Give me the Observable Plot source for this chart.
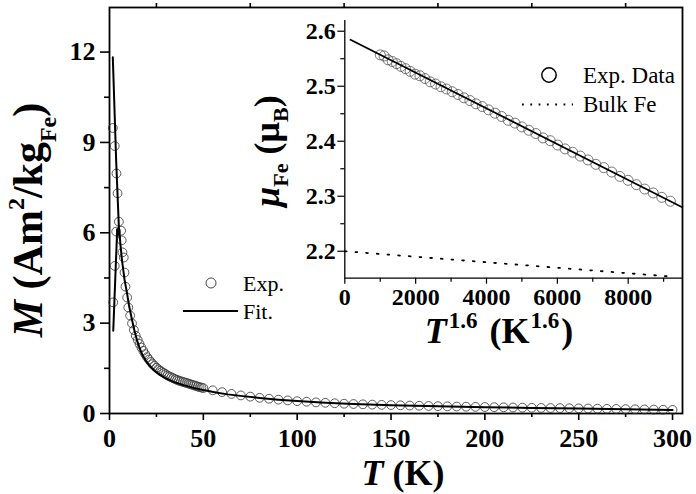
<!DOCTYPE html>
<html><head><meta charset="utf-8">
<script src="https://cdn.jsdelivr.net/npm/d3@7"></script>
<script src="https://cdn.jsdelivr.net/npm/@observablehq/plot@0.6"></script>
<style>
body{margin:0;background:#fff;}
#wrap{position:relative;width:696px;height:494px;overflow:hidden;background:#fff;}
#wrap svg{position:absolute;overflow:visible;}
#wrap svg text{font-family:'Liberation Serif','Times New Roman',serif;}
</style></head><body><div id="wrap"></div>
<script>
// ---------- Main plot data: M (Am2/kgFe) vs T (K) ----------
const expT = [1.76, 2.8, 3.7, 4.3, 5.0, 6.2, 6.5, 6.9, 7.6, 8.0, 8.5, 9.4,
  10, 11, 12, 13, 14, 15, 16, 17, 18, 19, 20, 21, 22, 23, 24, 25, 26, 27, 28, 29, 30,
  31, 32, 33, 34, 35, 36, 37, 38, 39, 40, 41, 42, 43, 44, 45, 46, 47, 48, 49, 50,
  55, 60, 65, 70, 75, 80, 85, 90, 95, 100, 105, 110, 115, 120, 125, 130, 135, 140, 145, 150,
  155, 160, 165, 170, 175, 180, 185, 190, 195, 200, 205, 210, 215, 220, 225, 230, 235, 240,
  245, 250, 255, 260, 265, 270, 275, 280, 285, 290, 295, 300];
const expM = [9.48, 8.88, 7.97, 7.31, 6.37, 6.07, 5.75, 5.35, 5.18, 4.68, 4.21, 3.85,
  3.52, 3.25, 2.99, 2.77, 2.58, 2.44, 2.31, 2.19, 2.08, 1.97, 1.87, 1.79, 1.71, 1.64, 1.58, 1.52, 1.47, 1.42, 1.38, 1.34, 1.30,
  1.26, 1.23, 1.20, 1.17, 1.14, 1.115, 1.09, 1.07, 1.05, 1.035, 1.015, 0.995, 0.975, 0.955, 0.935, 0.915, 0.895, 0.875, 0.86, 0.845,
  0.77, 0.71, 0.65, 0.60, 0.56, 0.52, 0.49, 0.46, 0.435, 0.41, 0.39, 0.37, 0.355, 0.34, 0.325, 0.315, 0.305, 0.295, 0.287, 0.28,
  0.272, 0.264, 0.257, 0.25, 0.243, 0.237, 0.231, 0.226, 0.22, 0.215, 0.21, 0.205, 0.2, 0.195, 0.19, 0.186, 0.182, 0.178,
  0.174, 0.17, 0.165, 0.16, 0.155, 0.15, 0.145, 0.14, 0.135, 0.13, 0.125, 0.12];
const riseT = [1.97, 2.8, 3.55];
const riseM = [3.69, 4.9, 6.04];
const fitT = [1.76, 3.55, 5.0, 6.0, 6.7, 8, 9.4, 10.5, 12.1, 13.4, 14.7, 16, 17.4, 19.5, 21.8, 24, 26.3, 30, 34.2, 39, 44.9, 50,
  57.4, 63, 69.8, 80, 90, 100, 115, 130, 150, 175, 200, 225, 250, 275, 300];
const fitM = [11.83, 8.39, 6.18, 5.5, 5.07, 4.45, 3.97, 3.55, 3.08, 2.72, 2.42, 2.18, 1.96, 1.74, 1.55, 1.42, 1.31, 1.17, 1.05, 0.95, 0.85, 0.78,
  0.69, 0.635, 0.585, 0.515, 0.46, 0.415, 0.36, 0.315, 0.275, 0.24, 0.21, 0.185, 0.165, 0.14, 0.115];
const fitRiseT = [2.0, 4.1, 5.5];
const fitRiseM = [2.75, 6.12, 5.85];
const xMajor = [0, 50, 100, 150, 200, 250, 300];
const xMinor = [25, 75, 125, 175, 225, 275];
const topTicks = [25, 75, 125, 175, 225, 275];
const yMajor = [0, 3, 6, 9, 12];
const yMinor = [1.5, 4.5, 7.5, 10.5];
const xDomain = [0, 305.3];
const yDomain = [0, 13.48];

// ---------- Inset data: mu_Fe (mu_B) vs T^1.6 ----------
const inX = [1000, 1109, 1222, 1339, 1460, 1585, 1714, 1846, 1982, 2122, 2265, 2411, 2562, 2715, 2872, 3032, 3195, 3362,
  3531, 3704, 3880, 4059, 4241, 4426, 4614, 4804, 4998, 5194, 5394, 5596, 5801, 6009, 6219, 6432, 6648, 6866, 7087,
  7311, 7537, 7765, 7997, 8231, 8467, 8706, 8948, 9190];
const inMu = [2.557, 2.555, 2.548, 2.545, 2.541, 2.536, 2.532, 2.527, 2.522, 2.519, 2.514, 2.508, 2.504, 2.499, 2.495, 2.490, 2.485, 2.479,
  2.474, 2.468, 2.463, 2.457, 2.451, 2.445, 2.438, 2.433, 2.426, 2.420, 2.414, 2.406, 2.401, 2.393, 2.386, 2.380, 2.373, 2.366, 2.358,
  2.352, 2.344, 2.336, 2.329, 2.321, 2.313, 2.306, 2.298, 2.291];
const inFitX = [161, 9525];
const inFitMu = [2.5844, 2.280];
const bulkX = [0, 9200];
const bulkMu = [2.200, 2.154];
const inXMajor = [0, 2000, 4000, 6000, 8000];
const inXMinor = [1000, 3000, 5000, 7000, 9000];
const inYMajor = [2.2, 2.3, 2.4, 2.5, 2.6];
const inYMinor = [2.25, 2.35, 2.45, 2.55];
const inXDomain = [0, 9533];
const inYDomain = [2.151, 2.6195];

// ---------- tables ----------
const expData = expT.map((T, i) => ({T, M: expM[i]})).concat(riseT.map((T, i) => ({T, M: riseM[i]})));
const fitData = fitT.map((T, i) => ({T, M: fitM[i], b: "a"})).concat(fitRiseT.map((T, i) => ({T, M: fitRiseM[i], b: "b"})));
const inData = inX.map((x, i) => ({x, mu: inMu[i]}));
const inFit = inFitX.map((x, i) => ({x, mu: inFitMu[i]}));
const bulk = bulkX.map((x, i) => ({x, mu: bulkMu[i]}));

const FONT = "'Liberation Serif', 'Times New Roman', serif";
const wrap = document.getElementById("wrap");
const tx = {fontFamily: FONT, fontWeight: "bold"};

const main = Plot.plot({
  width: 696, height: 494,
  marginLeft: 109, marginRight: 14, marginTop: 7, marginBottom: 81,
  style: {fontFamily: FONT, background: "transparent", overflow: "visible", color: "black"},
  x: {domain: xDomain},
  y: {domain: yDomain},
  marks: [
    Plot.axisX({...tx, ticks: xMajor, tickSize: 7, tickPadding: 8, fontSize: 26, tickFormat: d => String(d), label: null, strokeWidth: 1.6}),
    Plot.axisX({ticks: xMinor, tickSize: 4, tickFormat: () => "", label: null, strokeWidth: 1.6}),
    Plot.axisX({anchor: "top", ticks: topTicks, tickSize: 5, tickFormat: () => "", label: null, strokeWidth: 1.6}),
    Plot.axisY({...tx, ticks: yMajor, tickSize: 9, tickPadding: 5, fontSize: 26, tickFormat: d => String(d), label: null, strokeWidth: 1.6}),
    Plot.axisY({ticks: yMinor, tickSize: 5, tickFormat: () => "", label: null, strokeWidth: 1.6}),
    Plot.frame({stroke: "black", strokeWidth: 1.8}),
    Plot.dot(expData, {x: "T", y: "M", r: 4.4, stroke: "#333", strokeWidth: 0.8, fill: "none"}),
    Plot.line(fitData, {x: "T", y: "M", z: "b", stroke: "black", strokeWidth: 2})
  ]
});
main.style.left = "0px"; main.style.top = "0px";
wrap.appendChild(main);

const IL = 250, IT = 0;
const inset = Plot.plot({
  width: 446, height: 350,
  marginLeft: 94.3, marginRight: 14, marginTop: 20, marginBottom: 72.3,
  style: {fontFamily: FONT, background: "transparent", overflow: "visible", color: "black"},
  x: {domain: inXDomain},
  y: {domain: inYDomain},
  marks: [
    Plot.ruleX([inXDomain[0]], {stroke: "black", strokeWidth: 1.3}),
    Plot.ruleY([inYDomain[0]], {stroke: "black", strokeWidth: 1.3}),
    Plot.axisX({...tx, ticks: inXMajor, tickSize: 6, tickPadding: 4, fontSize: 24, tickFormat: d => String(d), label: null, strokeWidth: 1.2}),
    Plot.axisX({ticks: inXMinor, tickSize: 4, tickFormat: () => "", label: null, strokeWidth: 1.2}),
    Plot.axisY({...tx, ticks: inYMajor, tickSize: 7, tickPadding: 2, fontSize: 24, tickFormat: d => d.toFixed(1), label: null, strokeWidth: 1.2}),
    Plot.axisY({ticks: inYMinor, tickSize: 4, tickFormat: () => "", label: null, strokeWidth: 1.2}),
    Plot.dot(inData, {x: "x", y: "mu", r: 5, stroke: "#555", strokeWidth: 0.8, fill: "none"}),
    Plot.line(inFit, {x: "x", y: "mu", stroke: "black", strokeWidth: 1.8}),
    Plot.line(bulk, {x: "x", y: "mu", stroke: "black", strokeWidth: 1.8, strokeDasharray: "1.8,8.9"})
  ]
});
inset.style.left = IL + "px"; inset.style.top = IT + "px";
wrap.appendChild(inset);

// ---------- labels & legends ----------
const s = d3.select(main);
const g = s.append("g").attr("font-family", FONT).attr("fill", "black").attr("text-anchor", "start");

// y label
const yl = g.append("text").attr("transform", "translate(42,220) rotate(-90)")
  .attr("text-anchor", "middle").style("font-size", "42px").style("font-weight", "bold");
yl.append("tspan").style("font-style", "italic").text("M");
yl.append("tspan").text(" (Am");
yl.append("tspan").attr("dy", -18).style("font-size", "24px").text("2");
yl.append("tspan").attr("dy", 18).text("/kg");
yl.append("tspan").attr("dy", 14).style("font-size", "24px").text("Fe");
yl.append("tspan").attr("dy", -14).text(")");

// x label
const xl = g.append("text").attr("x", 403).attr("y", 485).attr("text-anchor", "middle")
  .style("font-size", "36px").style("font-weight", "bold");
xl.append("tspan").style("font-style", "italic").text("T");
xl.append("tspan").text(" (K)");

// main legend
g.append("circle").attr("cx", 211).attr("cy", 283).attr("r", 5).attr("fill", "none").attr("stroke", "#333").attr("stroke-width", 0.9);
g.append("text").attr("x", 243).attr("y", 291).attr("text-anchor", "start").style("font-size", "22px").text("Exp.");
g.append("line").attr("x1", 183).attr("x2", 238).attr("y1", 311).attr("y2", 311).attr("stroke", "black").attr("stroke-width", 2);
g.append("text").attr("x", 243).attr("y", 319).attr("text-anchor", "start").style("font-size", "22px").text("Fit.");

// inset labels
const iy = g.append("text").attr("transform", "translate(279,151) rotate(-90)")
  .attr("text-anchor", "middle").style("font-size", "36px").style("font-weight", "bold");
iy.append("tspan").style("font-style", "italic").text("\u03BC");
iy.append("tspan").attr("dy", 9).style("font-size", "22px").text("Fe");
iy.append("tspan").attr("dy", -9).text(" (\u03BC");
iy.append("tspan").attr("dy", 9).style("font-size", "22px").text("B");
iy.append("tspan").attr("dy", -9).text(")");

const ix = g.append("text").attr("x", 499).attr("y", 343).attr("text-anchor", "middle")
  .style("font-size", "36px").style("font-weight", "bold");
ix.append("tspan").style("font-style", "italic").text("T");
ix.append("tspan").attr("dx", 2).attr("dy", -15).style("font-size", "23px").text("1.6");
ix.append("tspan").attr("dx", 3).attr("dy", 15).text(" (K");
ix.append("tspan").attr("dx", 1).attr("dy", -15).style("font-size", "23px").text("1.6");
ix.append("tspan").attr("dx", 2).attr("dy", 15).text(")");

// inset legend
g.append("circle").attr("cx", 549).attr("cy", 75).attr("r", 7.2).attr("fill", "none").attr("stroke", "black").attr("stroke-width", 1.5);
g.append("text").attr("x", 583).attr("y", 83).attr("text-anchor", "start").style("font-size", "23px").text("Exp. Data");
g.append("line").attr("x1", 522).attr("x2", 573).attr("y1", 104.5).attr("y2", 104.5).attr("stroke", "black").attr("stroke-width", 1.8).attr("stroke-dasharray", "1.8,6.5");
g.append("text").attr("x", 583).attr("y", 112).attr("text-anchor", "start").style("font-size", "23px").text("Bulk Fe");
</script>
</body></html>
